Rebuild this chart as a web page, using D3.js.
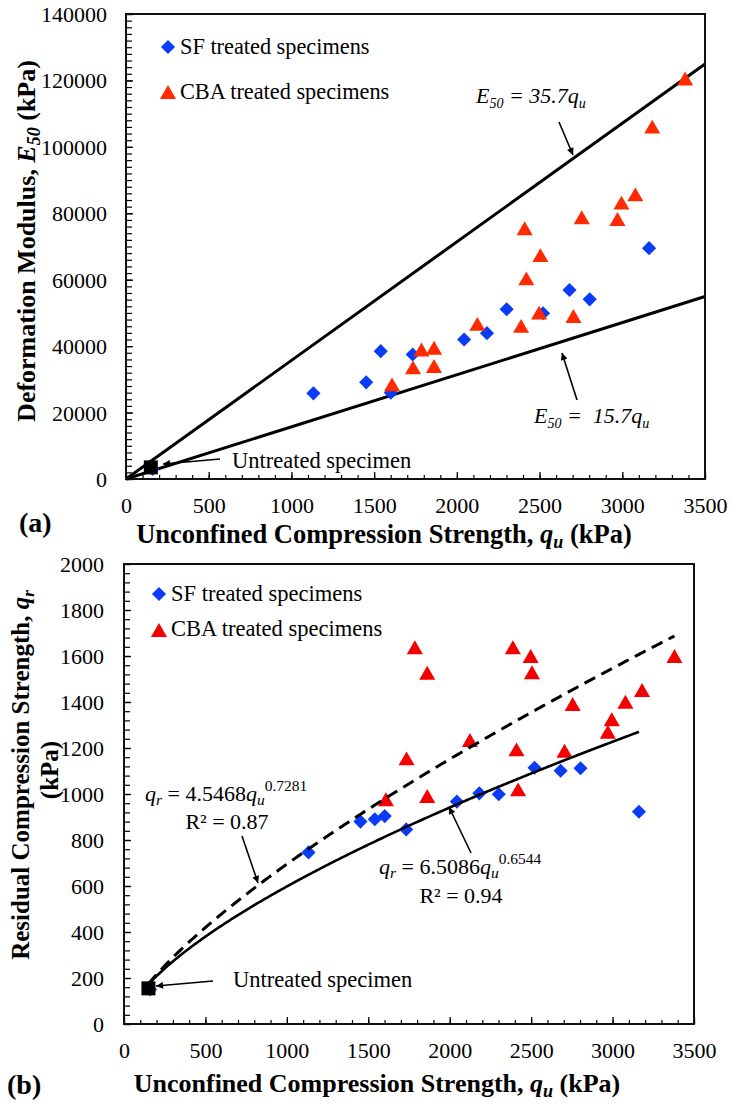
<!DOCTYPE html>
<html><head><meta charset="utf-8">
<script src="https://cdn.jsdelivr.net/npm/d3@7"></script>
<style>
body{margin:0;background:#fff}
</style>
</head><body><svg id="c" width="732" height="1111" style="font-family:'Liberation Serif','Times New Roman',serif"></svg>
<script>
// ---- data ----
const sfQu   = [1133,1452,1540,1601,1733,2044,2182,2301,2521,2681,2803,3162];
const sfE50  = [25800,29100,38500,26000,37500,42000,43900,51100,49900,56900,54100,69500];
const sfQr   = [746,880,890,904,846,967,1003,999,1114,1101,1112,923];
const cbaQu  = [1608,1735,1786,1862,1862,2124,2388,2410,2420,2497,2505,2705,2755,2971,2995,3079,3181,3380];
const cbaE50 = [28500,33600,39000,39500,34000,46700,46100,75500,60400,50100,67400,49100,78800,78300,83200,85700,106100,120600];
const cbaQr  = [977,1155,1638,1527,991,1235,1638,1194,1020,1600,1529,1188,1391,1271,1325,1401,1452,1600];
const untreatedQu = [150], untreatedE50 = [3500], untreatedQr = [155];
const untreatedSfQu = [160], untreatedSfE50 = [3000], untreatedSfQr = [150];
const refSlopes = [35.7, 15.7];
const fitCoef = [4.5468, 6.5086], fitExp = [0.7281, 0.6544], fitEnd = [3380, 3162], fitStart = 150;
const xTicks = [0,500,1000,1500,2000,2500,3000,3500];
const yTicksA = [0,20000,40000,60000,80000,100000,120000,140000];
const yTicksB = [0,200,400,600,800,1000,1200,1400,1600,1800,2000];

const BLUE = "#0a3cf5", RED_A = "#ff2a00", RED_B = "#f50000";
const FONT = "'Liberation Serif','Times New Roman',serif";
const svg = d3.select("#c");

svg.append("defs").append("marker").attr("id","arr").attr("viewBox","0 0 10 10")
  .attr("refX",10).attr("refY",5).attr("markerWidth",9).attr("markerHeight",7)
  .attr("markerUnits","userSpaceOnUse").attr("orient","auto")
  .append("path").attr("d","M0,0 L10,5 L0,10 z").attr("fill","#000");

const diamond = d3.symbol().type(d3.symbolSquare).size(100);
const triType = {draw(ctx,size){const s=Math.sqrt(size*4/Math.sqrt(3));const h=s*Math.sqrt(3)/2;
  ctx.moveTo(0,-h/2);ctx.lineTo(s/2,h/2);ctx.lineTo(-s/2,h/2);ctx.closePath();}};
const tri = d3.symbol().type(triType).size(112);

function minorAxes(g, x, y, yMinorStep, xMinorStep, yMax){
  const [x0] = x.range(), [y0] = y.range();
  g.append("g").attr("transform",`translate(0,${y0})`)
    .call(d3.axisBottom(x).tickValues(d3.range(0,3501,xMinorStep)).tickSizeInner(-4).tickSizeOuter(0).tickFormat(""))
    .call(s=>{s.select(".domain").remove();s.selectAll("line").attr("stroke","#000").attr("stroke-width",1.2);});
  g.append("g").attr("transform",`translate(${x0},0)`)
    .call(d3.axisLeft(y).tickValues(d3.range(0,yMax+1,yMinorStep)).tickSizeInner(-6).tickSizeOuter(0).tickFormat(""))
    .call(s=>{s.select(".domain").remove();s.selectAll("line").attr("stroke","#000").attr("stroke-width",1.2);});
}
function drawXAxis(g, x, y, ticks){
  const y0 = y.range()[0];
  g.append("g").attr("transform",`translate(0,${y0})`)
    .call(d3.axisBottom(x).tickValues(ticks).tickSizeInner(-7).tickSizeOuter(0).tickFormat(d3.format("d")))
    .call(s=>{s.select(".domain").remove();s.attr("font-family",FONT).attr("font-size",22);
      s.selectAll("line").attr("stroke","#000").attr("stroke-width",1.3);
      s.selectAll("text").attr("y",34).attr("dy",0);});
}
function drawYAxis(g, x, y, ticks, pad){
  const x0 = x.range()[0];
  g.append("g").attr("transform",`translate(${x0},0)`)
    .call(d3.axisLeft(y).tickValues(ticks).tickSizeInner(-7).tickSizeOuter(0).tickFormat(d3.format("d")))
    .call(s=>{s.select(".domain").remove();s.attr("font-family",FONT).attr("font-size",22);
      s.selectAll("line").attr("stroke","#000").attr("stroke-width",1.3);
      s.selectAll("text").attr("x",-pad).attr("dy","0.34em");});
}
function frame(g,x,y){
  const [x0,x1]=x.range(), [y0,y1]=y.range();
  g.append("rect").attr("x",x0).attr("y",y1).attr("width",x1-x0).attr("height",y0-y1)
    .attr("fill","none").attr("stroke","#111").attr("stroke-width",2);
}
function arrow(g,x1,y1,x2,y2){
  g.append("line").attr("x1",x1).attr("y1",y1).attr("x2",x2).attr("y2",y2)
    .attr("stroke","#000").attr("stroke-width",1.6).attr("marker-end","url(#arr)");
}

// ===================== (a) =====================
const xa = d3.scaleLinear().domain([0,3500]).range([126,705]);
const ya = d3.scaleLinear().domain([0,140000]).range([479,14]);
const ga = svg.append("g");
minorAxes(ga, xa, ya, 2000, 100, 140000);
drawXAxis(ga, xa, ya, xTicks);
drawYAxis(ga, xa, ya, yTicksA, 19);

refSlopes.forEach(k=>{
  ga.append("path").datum([0,3500])
    .attr("d", d3.line().x(d=>xa(d)).y(d=>ya(k*d)))
    .attr("stroke","#000").attr("stroke-width",3).attr("fill","none");
});
ga.selectAll(".ua").data(untreatedSfQu).join("path")
  .attr("d",diamond).attr("fill",BLUE)
  .attr("transform",(d,i)=>`translate(${xa(d)},${ya(untreatedSfE50[i])}) rotate(45)`);
ga.selectAll(".sfa").data(sfQu).join("path")
  .attr("d",diamond).attr("fill",BLUE)
  .attr("transform",(d,i)=>`translate(${xa(d)},${ya(sfE50[i])}) rotate(45)`);
ga.selectAll(".cbaa").data(cbaQu).join("path")
  .attr("d",tri).attr("fill",RED_A)
  .attr("transform",(d,i)=>`translate(${xa(d)},${ya(cbaE50[i])})`);
ga.selectAll(".unta").data(untreatedQu).join("rect")
  .attr("x",d=>xa(d)-7).attr("y",(d,i)=>ya(untreatedE50[i])-7).attr("width",14).attr("height",14).attr("fill","#000");
frame(ga,xa,ya);

ga.append("path").attr("d",diamond).attr("fill",BLUE).attr("transform","translate(168,47) rotate(45)");
ga.append("text").attr("x",180).attr("y",54).attr("font-size",22.3).text("SF treated specimens");
ga.append("path").attr("d",tri).attr("fill",RED_A).attr("transform","translate(168,92)");
ga.append("text").attr("x",180).attr("y",99).attr("font-size",22.3).text("CBA treated specimens");

function eqE(g,x,y,txt){
  const t=g.append("text").attr("x",x).attr("y",y).attr("font-size",22).attr("font-style","italic")
    .attr("xml:space","preserve");
  t.append("tspan").text("E");
  t.append("tspan").attr("dy",5).attr("font-size",14).text("50");
  t.append("tspan").attr("dy",-5).text(txt);
  t.append("tspan").attr("dy",5).attr("font-size",14).text("u");
}
eqE(ga,476,103," = 35.7q");
arrow(ga,559,122,573,155);
eqE(ga,534,423," =  15.7q");
arrow(ga,577,400,562,353);
ga.append("text").attr("x",232).attr("y",468).attr("font-size",22.5).text("Untreated specimen");
arrow(ga,220,459,163,464);

{
  const t=svg.append("text").attr("x",384).attr("y",543).attr("text-anchor","middle")
    .attr("font-size",26.5).attr("font-weight","bold");
  t.append("tspan").text("Unconfined Compression Strength, ");
  t.append("tspan").attr("font-style","italic").text("q");
  t.append("tspan").attr("dy",5).attr("font-style","italic").attr("font-size",18).text("u");
  t.append("tspan").attr("dy",-5).text(" (kPa)");
  const ty=svg.append("text").attr("transform","translate(35,241) rotate(-90)").attr("text-anchor","middle")
    .attr("font-size",26).attr("font-weight","bold");
  ty.append("tspan").text("Deformation Modulus, ");
  ty.append("tspan").attr("font-style","italic").text("E");
  ty.append("tspan").attr("dy",5).attr("font-style","italic").attr("font-size",18).text("50");
  ty.append("tspan").attr("dy",-5).text(" (kPa)");
  svg.append("text").attr("x",19).attr("y",532).attr("font-size",28).attr("font-weight","bold").text("(a)");
}

// ===================== (b) =====================
const xb = d3.scaleLinear().domain([0,3500]).range([124,694]);
const yb = d3.scaleLinear().domain([0,2000]).range([1024,564]);
const gb = svg.append("g");
minorAxes(gb, xb, yb, 40, 100, 2000);
drawXAxis(gb, xb, yb, xTicks);
drawYAxis(gb, xb, yb, yTicksB, 20);

gb.selectAll(".ub").data(untreatedSfQu).join("path")
  .attr("d",diamond).attr("fill",BLUE)
  .attr("transform",(d,i)=>`translate(${xb(d)},${yb(untreatedSfQr[i])}) rotate(45)`);
gb.selectAll(".sfb").data(sfQu).join("path")
  .attr("d",diamond).attr("fill",BLUE)
  .attr("transform",(d,i)=>`translate(${xb(d)},${yb(sfQr[i])}) rotate(45)`);
gb.selectAll(".cbab").data(cbaQu).join("path")
  .attr("d",tri).attr("fill",RED_B)
  .attr("transform",(d,i)=>`translate(${xb(d)},${yb(cbaQr[i])})`);
fitCoef.forEach((a,i)=>{
  const qs = d3.range(fitStart, fitEnd[i], 10).concat([fitEnd[i]]);
  gb.append("path").datum(qs)
    .attr("d", d3.line().x(d=>xb(d)).y(d=>yb(a*Math.pow(d,fitExp[i]))))
    .attr("fill","none").attr("stroke","#000").attr("stroke-width", i===0?3:2.6)
    .attr("stroke-dasharray", i===0?"12,7":null);
});
gb.selectAll(".untb").data(untreatedQu).join("rect")
  .attr("x",d=>xb(d)-7).attr("y",(d,i)=>yb(untreatedQr[i])-7).attr("width",14).attr("height",14).attr("fill","#000");
frame(gb,xb,yb);

gb.append("path").attr("d",diamond).attr("fill",BLUE).attr("transform","translate(159,594) rotate(45)");
gb.append("text").attr("x",171).attr("y",601).attr("font-size",22.5).text("SF treated specimens");
gb.append("path").attr("d",tri).attr("fill",RED_B).attr("transform","translate(159,630)");
gb.append("text").attr("x",171).attr("y",636).attr("font-size",22.5).text("CBA treated specimens");

function eqQ(g,x,y,coef,ex){
  const t=g.append("text").attr("x",x).attr("y",y).attr("font-size",22);
  t.append("tspan").attr("font-style","italic").text("q");
  t.append("tspan").attr("dy",4).attr("font-style","italic").attr("font-size",15.5).text("r");
  t.append("tspan").attr("dy",-4).text(" = "+coef);
  t.append("tspan").attr("font-style","italic").text("q");
  t.append("tspan").attr("dy",4).attr("font-style","italic").attr("font-size",15.5).text("u");
  t.append("tspan").attr("dy",-14).attr("font-size",15.5).text(ex);
}
eqQ(gb,145,801,"4.5468","0.7281");
gb.append("text").attr("x",227).attr("y",829).attr("text-anchor","middle").attr("font-size",22).text("R² = 0.87");
arrow(gb,242,836,258,883);
eqQ(gb,379,874,"6.5086","0.6544");
gb.append("text").attr("x",461).attr("y",903).attr("text-anchor","middle").attr("font-size",22).text("R² = 0.94");
arrow(gb,471,853,449,807);
gb.append("text").attr("x",233).attr("y",987).attr("font-size",22.5).text("Untreated specimen");
arrow(gb,213,981,156,986);

{
  const t=svg.append("text").attr("x",377).attr("y",1092).attr("text-anchor","middle")
    .attr("font-size",26).attr("font-weight","bold");
  t.append("tspan").text("Unconfined Compression Strength, ");
  t.append("tspan").attr("font-style","italic").text("q");
  t.append("tspan").attr("dy",5).attr("font-style","italic").attr("font-size",18).text("u");
  t.append("tspan").attr("dy",-5).text(" (kPa)");
  const ty=svg.append("text").attr("transform","translate(29,775) rotate(-90)").attr("text-anchor","middle")
    .attr("font-size",25).attr("font-weight","bold");
  ty.append("tspan").text("Residual Compression Strength, ");
  ty.append("tspan").attr("font-style","italic").text("q");
  ty.append("tspan").attr("dy",5).attr("font-style","italic").attr("font-size",17).text("r");
  svg.append("text").attr("transform","translate(58,770) rotate(-90)").attr("text-anchor","middle")
    .attr("font-size",25).attr("font-weight","bold").text("(kPa)");
  svg.append("text").attr("x",7).attr("y",1094).attr("font-size",28).attr("font-weight","bold").text("(b)");
}
svg.selectAll("text").style("font-family",FONT).attr("fill","#000");
</script>
</body></html>
